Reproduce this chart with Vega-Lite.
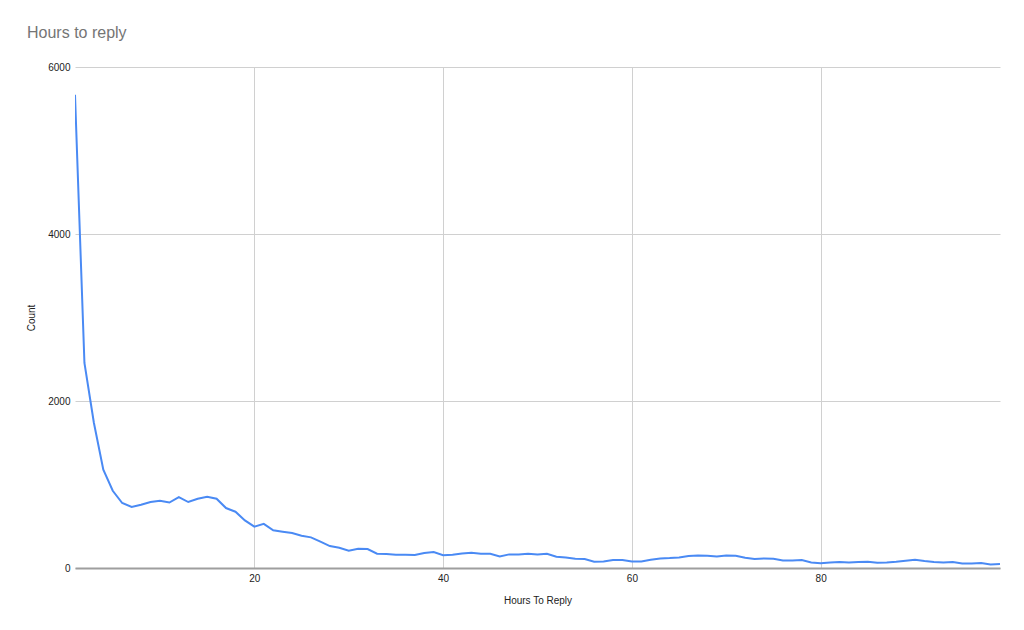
{
  "$schema": "https://vega.github.io/schema/vega-lite/v6.json",
  "width": 925,
  "height": 501,
  "autosize": {"type": "none"},
  "padding": {"left": 75, "top": 67, "right": 24, "bottom": 62},
  "background": "white",
  "title": {
    "text": "Hours to reply",
    "anchor": "start",
    "frame": "group",
    "dx": -48,
    "offset": 8,
    "baseline": "alphabetic",
    "font": "Liberation Sans",
    "fontSize": 16,
    "fontWeight": "normal",
    "color": "#757575"
  },
  "config": {
    "view": {"stroke": null},
    "axis": {"labelFont": "Liberation Sans", "titleFont": "Liberation Sans", "labelColor": "#222222", "titleColor": "#222222", "labelFontSize": 10, "titleFontSize": 10, "titleFontWeight": "normal"}
  },
  "data": {
    "values": [
      {"hours": 1, "count": 5668}, {"hours": 2, "count": 2455}, {"hours": 3, "count": 1740}, {"hours": 4, "count": 1177},
      {"hours": 5, "count": 925}, {"hours": 6, "count": 778}, {"hours": 7, "count": 730}, {"hours": 8, "count": 758},
      {"hours": 9, "count": 790}, {"hours": 10, "count": 806}, {"hours": 11, "count": 784}, {"hours": 12, "count": 850},
      {"hours": 13, "count": 790}, {"hours": 14, "count": 830}, {"hours": 15, "count": 854}, {"hours": 16, "count": 830},
      {"hours": 17, "count": 718}, {"hours": 18, "count": 674}, {"hours": 19, "count": 570}, {"hours": 20, "count": 495},
      {"hours": 21, "count": 528}, {"hours": 22, "count": 451}, {"hours": 23, "count": 435}, {"hours": 24, "count": 419},
      {"hours": 25, "count": 387}, {"hours": 26, "count": 367}, {"hours": 27, "count": 315}, {"hours": 28, "count": 263},
      {"hours": 29, "count": 243}, {"hours": 30, "count": 207}, {"hours": 31, "count": 231}, {"hours": 32, "count": 227},
      {"hours": 33, "count": 171}, {"hours": 34, "count": 168}, {"hours": 35, "count": 159}, {"hours": 36, "count": 159},
      {"hours": 37, "count": 155}, {"hours": 38, "count": 179}, {"hours": 39, "count": 191}, {"hours": 40, "count": 153},
      {"hours": 41, "count": 159}, {"hours": 42, "count": 175}, {"hours": 43, "count": 183}, {"hours": 44, "count": 171},
      {"hours": 45, "count": 171}, {"hours": 46, "count": 139}, {"hours": 47, "count": 163}, {"hours": 48, "count": 163},
      {"hours": 49, "count": 171}, {"hours": 50, "count": 163}, {"hours": 51, "count": 171}, {"hours": 52, "count": 135},
      {"hours": 53, "count": 127}, {"hours": 54, "count": 111}, {"hours": 55, "count": 107}, {"hours": 56, "count": 75},
      {"hours": 57, "count": 79}, {"hours": 58, "count": 95}, {"hours": 59, "count": 95}, {"hours": 60, "count": 77},
      {"hours": 61, "count": 78}, {"hours": 62, "count": 99}, {"hours": 63, "count": 115}, {"hours": 64, "count": 119},
      {"hours": 65, "count": 127}, {"hours": 66, "count": 143}, {"hours": 67, "count": 151}, {"hours": 68, "count": 147},
      {"hours": 69, "count": 139}, {"hours": 70, "count": 151}, {"hours": 71, "count": 147}, {"hours": 72, "count": 123},
      {"hours": 73, "count": 107}, {"hours": 74, "count": 115}, {"hours": 75, "count": 111}, {"hours": 76, "count": 91},
      {"hours": 77, "count": 91}, {"hours": 78, "count": 95}, {"hours": 79, "count": 67}, {"hours": 80, "count": 58},
      {"hours": 81, "count": 65}, {"hours": 82, "count": 71}, {"hours": 83, "count": 67}, {"hours": 84, "count": 71},
      {"hours": 85, "count": 75}, {"hours": 86, "count": 63}, {"hours": 87, "count": 67}, {"hours": 88, "count": 75},
      {"hours": 89, "count": 87}, {"hours": 90, "count": 99}, {"hours": 91, "count": 83}, {"hours": 92, "count": 71},
      {"hours": 93, "count": 67}, {"hours": 94, "count": 71}, {"hours": 95, "count": 55}, {"hours": 96, "count": 55},
      {"hours": 97, "count": 60}, {"hours": 98, "count": 43}, {"hours": 99, "count": 48}
    ]
  },
  "mark": {"type": "line", "color": "#4A8AF4", "strokeWidth": 2, "clip": true},
  "encoding": {
    "x": {
      "field": "hours",
      "type": "quantitative",
      "title": "Hours To Reply",
      "scale": {"domain": [1, 99], "nice": false, "zero": false},
      "axis": {"values": [20, 40, 60, 80], "format": "d", "ticks": false, "labelPadding": 5, "titlePadding": 12, "grid": true, "gridColor": "#d0d0d0", "domain": true, "domainColor": "#9e9e9e", "domainWidth": 2}
    },
    "y": {
      "field": "count",
      "type": "quantitative",
      "title": "Count",
      "scale": {"domain": [0, 6000], "nice": false},
      "axis": {"values": [0, 2000, 4000, 6000], "format": "d", "ticks": false, "domain": false, "labelPadding": 5, "titlePadding": 11, "grid": true, "gridColor": "#d0d0d0"}
    }
  }
}
